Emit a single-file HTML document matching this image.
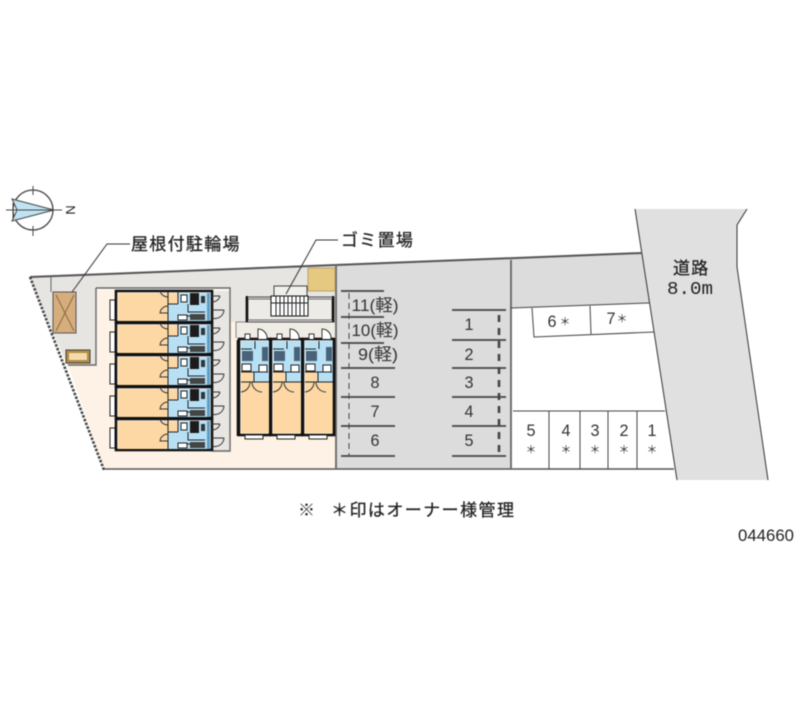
<!DOCTYPE html>
<html><head><meta charset="utf-8"><style>
html,body{margin:0;padding:0;background:#fff;width:800px;height:727px;overflow:hidden}
svg{display:block;filter:blur(.45px)}
text{font-family:"Liberation Sans","Noto Sans CJK JP",sans-serif;fill:#222}
.l{font-size:17px;font-family:"Noto Sans CJK JP","Liberation Sans",sans-serif;letter-spacing:1.3px;stroke:#222;stroke-width:.3px}
.n{font-size:17px;text-anchor:middle;fill:#333}
.a{font-size:11px;text-anchor:middle;fill:#333;font-family:"Noto Sans CJK JP",sans-serif}
</style></head><body>
<svg width="800" height="727" viewBox="0 0 800 727" xmlns="http://www.w3.org/2000/svg">
<defs>
<g id="lu">
<rect x="110" y="300" width="5" height="20" fill="#fff" stroke="#222"/>
<rect x="116" y="291" width="96" height="31" fill="#fff" stroke="#111" stroke-width="2.6"/>
<rect x="118" y="293" width="50" height="28" fill="#fdd8a4"/>
<rect x="168" y="293" width="10" height="11" fill="#fdd8a4"/>
<rect x="168" y="304" width="42" height="17" fill="#b7e0f5"/>
<rect x="178" y="293" width="32" height="11" fill="#b7e0f5"/>
<rect x="190" y="293" width="9" height="12" fill="#1c1c1c"/>
<rect x="181" y="295" width="6" height="7" fill="#fff" stroke="#222"/>
<rect x="207" y="293" width="3" height="28" fill="#5f9dc6"/>
<rect x="201" y="296" width="4" height="7" fill="#333"/>
<path d="M168 292V322M178 292V304M168 304H178M188 304V312H205M178 316H204" stroke="#222" fill="none"/>
<path d="M168 297A8 8 0 0 1 160 291M168 306A8 8 0 0 0 160 313H168" stroke="#333" fill="none"/>
<rect x="178" y="315" width="9" height="5" fill="#fff" stroke="#222"/>
<rect x="190" y="314" width="15" height="6" fill="#444"/>
<path d="M212 296H220M212 302A8 8 0 0 0 220 296M212 310H224M212 318A9 9 0 0 0 224 310" stroke="#333" fill="none"/>
</g>
<g id="ru">
<rect x="239" y="339" width="31" height="96" fill="#fff" stroke="#111" stroke-width="2.6"/>
<rect x="241" y="382" width="28" height="51" fill="#fdd8a4"/>
<rect x="241" y="341" width="28" height="41" fill="#b7e0f5"/>
<rect x="241" y="372" width="12" height="10" fill="#fdd8a4"/>
<rect x="242" y="351" width="11" height="10" fill="#4a6277"/>
<rect x="262" y="347" width="6" height="14" fill="#4a6277"/>
<rect x="242" y="364" width="9" height="7" fill="#fff" stroke="#222"/>
<rect x="259" y="365" width="8" height="7" fill="#fff" stroke="#222"/>
<path d="M241 349H252M255 341V349M241 372H268M254 372V382M241 382H269" stroke="#222" fill="none"/>
<path d="M241 392A10 10 0 0 0 250 382M262 392A10 10 0 0 1 252 382" stroke="#333" fill="none"/>
<rect x="245" y="435" width="18" height="4" fill="#fff" stroke="#222"/>
<path d="M258 339V329A9 9 0 0 1 267 339M245 339V334H250V339" stroke="#333" fill="#fff"/>
</g>
</defs>

<!-- site fills -->
<polygon points="97,290 336,290 336,468 104,468 68,365 97,365" fill="#fdf2e5"/>
<polygon points="30,277 336,264 336,322 230,322 230,288 96,288 96,365 67,365" fill="#e6e5e2"/>
<rect x="212" y="291" width="18" height="160" fill="#e8e6e2"/>
<rect x="236" y="322" width="100" height="16" fill="#efece5"/>
<polygon points="336,264 511,258 511,469 336,469" fill="#dcdcdc"/>
<polygon points="511,258 642,253 650,303 511,308" fill="#dcdcdc"/>
<polygon points="635,209 747,209 737,225 737,267 768,480 677,480" fill="#e0e0e0"/>
<path d="M635,209 677,480M747,209 737,225V267L768,480" stroke="#333" fill="none"/>

<!-- boundary -->
<path d="M30 277 642 253" stroke="#555" stroke-width="2"/>
<path d="M30 277 104 470" stroke="#444" stroke-width="2.6" stroke-dasharray="2.5 1.5"/>
<path d="M104 469H674" stroke="#555" stroke-width="1.6"/>
<path d="M336 264V469M511 260V469" stroke="#666" stroke-width="1.8"/>
<path d="M96 288H230V451H212M96 288V365H68" stroke="#666" stroke-width="1.4" fill="none"/>
<path d="M236 322H336M236 322V338" stroke="#888" fill="none"/>
<path d="M51 277V292" stroke="#666"/>

<!-- bike parking & small box -->
<rect x="53" y="292" width="23" height="41" fill="#d6ae7e" stroke="#555"/>
<path d="M56 295 74 331M74 295 56 331" stroke="#8a6a42"/>
<rect x="66" y="350" width="24" height="13" fill="#b58a45" stroke="#443"/>
<rect x="69" y="353" width="18" height="7" fill="#f2dcae"/>

<!-- left units -->
<use href="#lu"/>
<use href="#lu" y="32"/>
<use href="#lu" y="64"/>
<use href="#lu" y="96"/>
<use href="#lu" y="128"/>

<!-- right units -->
<use href="#ru"/>
<use href="#ru" x="32"/>
<use href="#ru" x="64"/>
<path d="M238 340V436M334 340V436" stroke="#111" stroke-width="2.6"/>

<!-- stairs & yard -->
<rect x="308" y="268" width="27" height="23" fill="#e6c981" stroke="#b9a06a"/>
<rect x="246" y="297" width="88" height="25" fill="#ecebe8" stroke="#444"/>
<rect x="248" y="299" width="84" height="21" fill="#ecebe8" stroke="#666"/>
<rect x="274" y="286" width="33" height="10" fill="#f0efec" stroke="#444"/>
<rect x="271" y="296" width="37" height="20" fill="#fff" stroke="#111"/>
<path d="M276 296V316M280 296V316M284 296V316M288 296V316M292 296V316M296 296V316M300 296V316M304 296V316M271 303H308" stroke="#222"/>
<path d="M247 322V296M333 322V296" stroke="#111" stroke-width="2"/>

<!-- parking lines -->
<g stroke="#444" stroke-width="1.8">
<path d="M341 291H384M341 317H384M341 343H384M341 368H395M341 397H395M341 426H395M341 456H395"/>
<path d="M452 310H506M452 340H506M452 368H506M452 397H506M452 426H506M452 456H506"/>
</g>
<path d="M349 293V456" stroke="#444" stroke-dasharray="6 4"/>
<path d="M499 315V455" stroke="#444" stroke-width="2.6" stroke-dasharray="7 6"/>
<text class="n" x="375" y="311" textLength="47" lengthAdjust="spacingAndGlyphs">11(軽)</text>
<text class="n" x="375" y="336" textLength="47" lengthAdjust="spacingAndGlyphs">10(軽)</text>
<text class="n" x="378" y="360" textLength="40" lengthAdjust="spacingAndGlyphs">9(軽)</text>
<text class="n" x="375" y="388" textLength="9" lengthAdjust="spacingAndGlyphs">8</text>
<text class="n" x="375" y="417" textLength="9" lengthAdjust="spacingAndGlyphs">7</text>
<text class="n" x="375" y="446" textLength="9" lengthAdjust="spacingAndGlyphs">6</text>
<text class="n" x="469" y="330" textLength="9" lengthAdjust="spacingAndGlyphs">1</text>
<text class="n" x="469" y="360" textLength="9" lengthAdjust="spacingAndGlyphs">2</text>
<text class="n" x="469" y="388" textLength="9" lengthAdjust="spacingAndGlyphs">3</text>
<text class="n" x="469" y="417" textLength="9" lengthAdjust="spacingAndGlyphs">4</text>
<text class="n" x="469" y="446" textLength="9" lengthAdjust="spacingAndGlyphs">5</text>

<!-- white lots -->
<path d="M511 308 649 303M532 308 534 337 654 332M590 306 591 334" stroke="#444" fill="none"/>
<text class="n" x="552" y="327" textLength="9" lengthAdjust="spacingAndGlyphs">6</text><text class="a" x="565" y="325">＊</text>
<text class="n" x="611" y="324" textLength="9" lengthAdjust="spacingAndGlyphs">7</text><text class="a" x="622" y="322">＊</text>
<path d="M513 411H665M549 411V469M580 411V469M608 411V469M637 411V469" stroke="#444" fill="none"/>
<text class="n" x="531" y="436" textLength="9" lengthAdjust="spacingAndGlyphs">5</text><text class="a" x="531" y="453">＊</text>
<text class="n" x="566" y="436" textLength="9" lengthAdjust="spacingAndGlyphs">4</text><text class="a" x="566" y="453">＊</text>
<text class="n" x="595" y="436" textLength="9" lengthAdjust="spacingAndGlyphs">3</text><text class="a" x="595" y="453">＊</text>
<text class="n" x="624" y="436" textLength="9" lengthAdjust="spacingAndGlyphs">2</text><text class="a" x="624" y="453">＊</text>
<text class="n" x="652" y="436" textLength="9" lengthAdjust="spacingAndGlyphs">1</text><text class="a" x="652" y="453">＊</text>

<!-- compass -->
<circle cx="33" cy="210" r="20" fill="none" stroke="#444" stroke-width="1.3"/>
<polygon points="12,199 54,210 12,221 17,210" fill="#bfe3f3" stroke="#444"/>
<path d="M33 186V195M33 226V236M6 210H62" stroke="#444"/>
<path d="M13 203V219" stroke="#444"/>
<text x="71" y="215" font-size="13" text-anchor="middle" transform="rotate(90 71 210)">N</text>

<!-- leaders -->
<path d="M130 244H107L72 292" stroke="#333" fill="none"/>
<path d="M338 240H316L286 294" stroke="#333" fill="none"/>

<!-- labels -->
<text class="l" x="131" y="250">屋根付駐輪場</text>
<text class="l" x="341" y="246">ゴミ置場</text>
<text class="l" x="673" y="274">道路</text>
<text x="690" y="294" font-size="18" text-anchor="middle" textLength="46" lengthAdjust="spacingAndGlyphs" style="font-family:'Liberation Mono',monospace">8.0m</text>
<text x="298" y="516" font-size="17" style="font-family:'Noto Sans CJK JP',sans-serif">※</text>
<text x="331" y="516" font-size="17" textLength="183" stroke="#222" stroke-width=".25" style="font-family:'Noto Sans CJK JP',sans-serif">＊印はオーナー様管理</text>
<text x="738" y="541" font-size="17" textLength="56" lengthAdjust="spacingAndGlyphs">044660</text>
</svg>
</body></html>
